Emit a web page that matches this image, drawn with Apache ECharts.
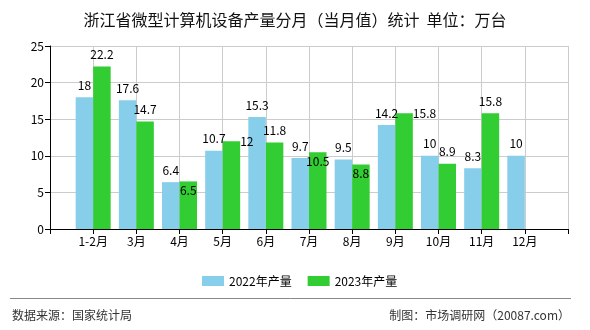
<!DOCTYPE html>
<html>
<head>
<meta charset="utf-8">
<script src="https://cdn.jsdelivr.net/npm/echarts@6/dist/echarts.min.js"></script>
<style>
  html, body { margin: 0; padding: 0; background: #fff; }
  #chart { width: 590px; height: 330px; }
</style>
</head>
<body>
<div id="chart"></div>
<script>
// Monthly output of microcomputer equipment, Zhejiang (10k units)
const months = ['1-2月', '3月', '4月', '5月', '6月', '7月', '8月', '9月', '10月', '11月', '12月'];
const output2022 = [18, 17.6, 6.4, 10.7, 15.3, 9.7, 9.5, 14.2, 10, 8.3, 10];
const output2023 = [22.2, 14.7, 6.5, 12, 11.8, 10.5, 8.8, 15.8, 8.9, 15.8, null];
const yTicks = [0, 5, 10, 15, 20, 25];

// label placement for the 2023 series (index into months)
const insideTop2023 = [2, 5, 6];
const rightSide2023 = [3, 7];

const FONT = '"Noto Sans CJK SC", "DejaVu Sans", sans-serif';

// empty slot on each end keeps the bars off the axis edges
const axisCats = [''].concat(months, ['']);

function padded(arr) {
  return [null].concat(arr, [null]);
}

const data2022 = padded(output2022);
const data2023 = padded(output2023).map((v, i) => {
  const m = i - 1;
  if (v === null) return null;
  if (insideTop2023.indexOf(m) >= 0) {
    return { value: v, label: { position: 'insideTop', distance: 3 } };
  }
  if (rightSide2023.indexOf(m) >= 0) {
    return { value: v, label: { position: ['100%', 0], align: 'left', verticalAlign: 'middle', distance: 0 } };
  }
  return v;
});

const chart = echarts.init(document.getElementById('chart'), null, { renderer: 'canvas' });

const labelStyle = {
  show: true,
  position: 'top',
  distance: 6,
  color: '#000',
  fontSize: 12,
  fontFamily: FONT
};

chart.setOption({
  animation: false,
  backgroundColor: '#fff',
  title: {
    text: '浙江省微型计算机设备产量分月（当月值）统计  单位：万台',
    left: 'center',
    top: 7,
    textStyle: { fontSize: 16, fontWeight: 'normal', color: '#111', fontFamily: FONT }
  },
  legend: {
    left: 197,
    top: 270,
    itemWidth: 22,
    itemHeight: 10,
    itemGap: 16,
    icon: 'rect',
    textStyle: { fontSize: 12, color: '#000', fontFamily: FONT },
    data: ['2022年产量', '2023年产量']
  },
  grid: { left: 50, right: 22, top: 46, bottom: 101, containLabel: false },
  xAxis: {
    type: 'category',
    data: axisCats,
    boundaryGap: false,
    axisLine: { lineStyle: { color: '#000', width: 1 } },
    axisTick: { show: true, length: 5, lineStyle: { color: '#000' } },
    axisLabel: { interval: 0, color: '#000', fontSize: 12, fontFamily: FONT, margin: 6 },
    splitLine: { show: true, lineStyle: { color: '#ccc', width: 1 } }
  },
  yAxis: {
    type: 'value',
    min: yTicks[0],
    max: yTicks[yTicks.length - 1],
    interval: 5,
    axisLine: { show: true, lineStyle: { color: '#000', width: 1 } },
    axisTick: { show: true, length: 5, lineStyle: { color: '#000' } },
    axisLabel: { color: '#000', fontSize: 12, fontFamily: FONT, margin: 6 },
    splitLine: { show: true, lineStyle: { color: '#ccc', width: 1 } }
  },
  series: [
    {
      name: '2022年产量',
      type: 'bar',
      data: data2022,
      barWidth: 17.5,
      barGap: '0%',
      itemStyle: { color: '#87CEEB' },
      label: labelStyle
    },
    {
      name: '2023年产量',
      type: 'bar',
      data: data2023,
      barWidth: 17.5,
      barGap: '0%',
      itemStyle: { color: '#32CD32' },
      label: labelStyle
    }
  ],
  graphic: [
    {
      type: 'line',
      shape: { x1: 10, y1: 298.5, x2: 571, y2: 298.5 },
      style: { stroke: '#888', lineWidth: 1 }
    },
    {
      type: 'text',
      left: 12,
      top: 309,
      style: { text: '数据来源：国家统计局', fill: '#333', font: '12px ' + FONT }
    },
    {
      type: 'text',
      right: 20,
      top: 309,
      style: { text: '制图：市场调研网（20087.com）', fill: '#333', font: '12px ' + FONT }
    }
  ]
});
</script>
</body>
</html>
